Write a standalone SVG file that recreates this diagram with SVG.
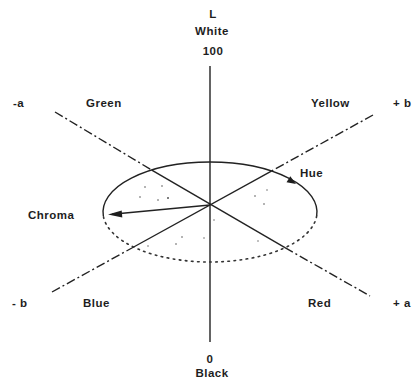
<svg xmlns="http://www.w3.org/2000/svg" width="413" height="390" viewBox="0 0 413 390">
<style>
text{font-family:"Liberation Sans",Arial,sans-serif;font-size:11.5px;font-weight:bold;fill:#1e1e1e;letter-spacing:0.5px}
.m{text-anchor:middle}
.s{stroke:#222;stroke-width:1.4;fill:none}
.d{stroke:#222;stroke-width:1.4;fill:none;stroke-dasharray:9 3 2 3}
.dot{stroke:#333;stroke-width:1.6;fill:none;stroke-dasharray:1.6 4.5;stroke-linecap:round}
.ah{fill:#1e1e1e}
.sp{fill:#555}
</style>
<rect width="413" height="390" fill="#fff"/>
<g id="connectors">
<line class="s" x1="210" y1="66" x2="210" y2="342"/>
<line class="d" x1="55" y1="112" x2="151.8" y2="170.1"/>
<line class="s" x1="151.8" y1="170.1" x2="285" y2="247.7"/>
<line class="d" x1="285" y1="247.7" x2="370" y2="296"/>
<line class="d" x1="373" y1="115" x2="271.4" y2="171.1"/>
<line class="s" x1="271.4" y1="171.1" x2="133.7" y2="247"/>
<line class="d" x1="52" y1="292" x2="133.7" y2="247"/>
</g>
<g id="ellipse">
<path class="s" d="M103.34 216 A107 50 0 1 1 316.66 216"/>
<path class="dot" d="M316.66 216 A107 50 0 0 1 103.34 216"/>
</g>
<g id="hue">
<polygon class="ah" points="296,184 286.5,182.2 290.3,176.2"/>
<text x="300" y="177">Hue</text>
</g>
<g id="chroma">
<line class="s" x1="210" y1="205" x2="112" y2="214.3"/>
<polygon class="ah" points="108,214.6 122.3,217.6 121.7,210.6"/>
<text x="28" y="219">Chroma</text>
</g>
<g id="speckles">
<circle class="sp" cx="145" cy="187" r="0.8"/><circle class="sp" cx="162" cy="186" r="0.8"/>
<circle class="sp" cx="140" cy="197" r="0.8"/><circle class="sp" cx="158" cy="200" r="0.8"/>
<circle class="sp" cx="168" cy="198" r="1"/><circle class="sp" cx="255" cy="196" r="0.8"/>
<circle class="sp" cx="264" cy="204" r="0.8"/><circle class="sp" cx="267" cy="190" r="0.7"/>
<circle class="sp" cx="182" cy="237" r="0.8"/><circle class="sp" cx="176" cy="244" r="0.8"/>
<circle class="sp" cx="204" cy="238" r="0.7"/><circle class="sp" cx="214" cy="220" r="0.7"/>
<circle class="sp" cx="258" cy="241" r="0.7"/><circle class="sp" cx="148" cy="246" r="0.7"/>
</g>
<g id="top-label">
<text class="m" x="213" y="18">L</text>
<text class="m" x="212" y="35">White</text>
<text class="m" x="213" y="55">100</text>
</g>
<g id="bottom-label">
<text class="m" x="210" y="363">0</text>
<text class="m" x="212" y="377">Black</text>
</g>
<g id="green"><text x="13" y="107">-a</text><text x="86" y="107">Green</text></g>
<g id="yellow"><text x="311" y="107">Yellow</text><text x="393" y="107">+ b</text></g>
<g id="blue"><text x="12" y="307">- b</text><text x="83" y="307">Blue</text></g>
<g id="red"><text x="308" y="307">Red</text><text x="393" y="307">+ a</text></g>
</svg>
